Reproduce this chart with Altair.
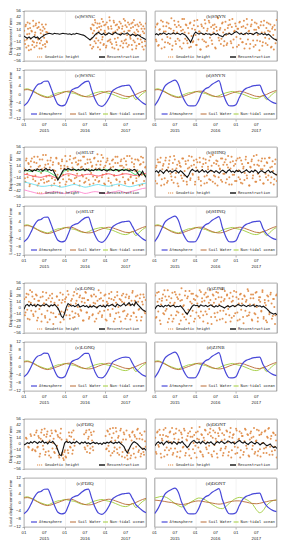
import altair as alt
import pandas as pd

# ---------------- data ----------------
X_TICKS = [2015.0, 2015.5, 2016.0, 2016.5, 2017.0, 2017.5]
MONTH_LABELS = ["01", "07", "01", "07", "01", "07"]
YEAR_POS = [2015.5, 2016.5, 2017.5]
YEAR_LABELS = ["2015", "2016", "2017"]
DISP_TICKS = [-56, -42, -28, -14, 0, 14, 28, 42, 56]
LOAD_TICKS = [-12, -8, -4, 0, 4, 8, 12]

GROUPS = [("WSNC", "SNYN"), ("SHAT", "SHNQ"), ("LONQ", "ZJNB"), ("FDIQ", "DONT")]

# reconstruction (half-monthly, Jan 2015 - Dec 2017)
REC = {
    "WSNC": [0,-3,-5,-2,-6,-3,-1,-4,-2,-7,-3,-1,2, 4,5,6,5,4,6,5,5,4,5,6,5,5,4,5,3,5,4,6,5,4,3,2,0,
             -3,-6,-9,-5,-2,3,6,8,5,3,6,2,4,7,5,3,6,8,5,4,2,6,4,5,7,3,1,4,2,0,3,1,-2,-4,-6,-8],
    "SNYN": [3,5,2,6,4,7,5,3,6,4,5,7,4,6,5,3,6,4,2,-3,-8,-14,-6,4,9,6,4,7,5,3,6,4,5,2,4,6,3,5,1,0,
             -2,3,5,4,6,3,5,8,10,7,4,6,3,5,7,4,6,5,3,6,8,5,4,6,3,5,2,4,1,-3,-6,-8,-10],
    "SHAT": [2,5,3,6,4,1,5,3,7,4,6,2,5,8,4,6,3,5,-2,-10,-18,-12,-4,3,7,5,8,6,4,7,5,3,6,4,5,7,3,6,4,
             2,5,3,6,4,7,5,3,6,4,2,5,7,4,3,6,5,2,4,6,3,5,4,2,5,3,6,4,-2,-8,-4,2,-6,-12],
    "SHNQ": [0,3,-2,4,1,-3,2,5,0,3,-1,2,4,1,-2,3,0,-4,-8,-12,-6,2,6,3,1,4,-1,2,5,0,3,-2,1,4,2,-1,3,
             0,-3,2,4,1,-2,3,5,0,2,-1,4,1,3,-2,0,2,5,1,-1,3,0,4,2,-3,1,3,0,-2,2,4,-1,1,-3,-5,-7],
    "LONQ": [-3,6,8,4,9,5,7,3,8,6,4,7,5,9,6,3,7,5,8,4,0,-8,-18,-22,-12,2,10,7,4,6,3,5,8,2,4,6,3,5,1,
             4,2,5,3,0,4,6,3,5,2,7,4,6,8,5,3,9,6,4,7,10,5,8,12,6,9,5,14,8,4,0,-4,-6,-8],
    "ZJNB": [-2,4,6,3,5,2,6,4,7,3,5,6,2,4,3,5,1,-4,-10,-14,-8,-2,4,7,5,6,3,7,5,4,6,3,5,7,4,2,5,3,6,
             4,2,0,3,5,2,4,6,3,5,8,6,4,7,5,3,6,4,5,7,3,6,4,5,2,4,1,-2,-6,-10,-12,-14,-12,-15],
    "FDIQ": [-2,0,3,1,5,2,6,4,1,5,3,7,2,4,0,5,3,6,1,-4,-14,-24,-26,-12,2,6,3,5,1,4,2,6,3,0,4,2,5,1,
             3,0,2,4,1,3,0,2,-1,3,1,4,2,5,3,1,4,2,5,1,-2,-6,-14,-20,-12,-4,2,5,3,0,-4,-8,-12,-10,-14],
    "DONT": [-4,2,5,1,4,-2,3,6,2,4,0,5,3,-1,4,2,6,1,-3,-8,-4,2,6,8,4,2,5,1,6,3,0,4,2,5,1,-2,3,5,2,
             6,4,1,3,7,5,2,4,0,3,6,8,4,2,5,1,-1,3,5,2,0,4,2,-2,1,3,-1,-4,-2,0,-5,-8,-6,-10],
}

# geodetic height samples, two interleaved sets (evenly spread over 3 years; None = no data)
SCAT_A = {
    "WSNC": [12,-18,25,-8,30,-22,5,18,-30,10,-12,22,-25,8,28,-15,-5,20,-28,14,-10,26,-20,3,16,-24,9,-14]
            + [None] * 50 +
            [-20,15,-28,6,24,-12,30,-5,18,-25,10,28,-15,22,-8,32,-18,12,26,-22,5,20,-10,35,-14,16,
             -26,8,30,-6,24,-20,14,-30,18,4,28,-12,22,-16,10,34,-8,20,-24,12,26,-2,18,-20,30,-10,8,
             24,-28,14,-6,22,-18,2,26,-14,10,-30,16,-22],
    "SNYN": [20,-12,28,-20,15,35,-8,22,-25,10,30,-15,18,-5,40,-22,12,25,-18,8,32,-10,20,-28,14,38,-6,
             24,-16,6,28,-24,16,-12,34,2,-20,22,10,-30,26,-8,18,36,-14,12,-22,30,4,-10,24,16,-26,20,
             42,-4,14,-18,28,8,-12,32,-20,18,6,26,-16,38,-8,12,22,-24,16,30,-6,20,-14,34,4,-18,26,10,
             -28,22,36,-10,14,-20,28,2,18,-12,32,-22,24,8,-16,30,12,-6,26,-24,20,-30,14,-8],
    "SHAT": [8,-22,30,-12,18,-28,24,4,-16,34,-8,20,-30,12,28,-18,6,38,-24,16,-10,26,-20,10,32,-14,22,
             -26,2,30,-6,18,-32,14,24,-16,8,36,-22,12,-8,28,-18,20,4,-26,32,-12,16,26,-20,10,-6,34,
             -24,18,-14,28,6,-28,22,12,-10,30,-18,16,40,-22,8,24,-12,32,-26,14,-4,26,-20,18,10,-30,
             28,-8,20,-16,34,2,-22,24,14,-12,30,-26,16,6,-18,36,-10,22,-24,12,28,-14,4,26,-30,18,-6,
             32,-20,10],
    "SHNQ": [-20,14,28,-8,22,-30,6,18,-14,32,-24,10,26,-4,-18,20,36,-12,8,-26,24,14,-8,30,-20,2,18,
             -28,26,10,-14,34,-6,16,-22,28,4,-16,22,-30,12,30,-10,20,-24,6,26,-18,14,38,-8,-26,18,24,
             -12,8,30,-22,16,-4,28,-16,10,-28,22,34,-6,14,-20,26,2,-12,32,-24,18,8,-18,28,-8,20,-30,
             12,24,-14,36,4,-22,16,26,-10,6,30,-26,14,-4,22,-18,32,10,-12,24,-28,18,-6],
    "LONQ": [20,-10,32,-24,14,40,-6,26,-18,8,30,-28,16,-2,24,-14,36,10,-22,18,-32,4,28,-10,22,-36,12,
             -20,26,6,-14,34,-8,18,-26,14,24,-4,30,-16,8,20,-22,36,-12,16,2,-18,28,-6,22,-28,12,34,
             -10,18,-20,4,26,-14,30,10,-24,16,40,-8,22,-16,6,28,-26,14,-4,32,-18,20,8,-30,24,-12,36,
             2,-20,18,28,-8,12,-24,30,-14,22,6,-18,34,-10,16,26,-28,14,-2,30,-20,8,24,-12],
    "ZJNB": [28,-20,14,36,-28,8,22,-12,40,-6,18,-32,26,4,-16,34,-24,12,30,-8,20,-36,16,44,-14,6,28,
             -26,22,-4,38,-18,10,32,-30,18,-10,26,2,-22,36,14,-16,30,-8,24,-34,12,40,-20,6,28,-12,20,
             -28,34,8,-6,24,-24,16,38,-14,30,-2,22,-30,14,26,-18,4,36,-10,20,-26,32,10,-20,28,-6,18,
             42,-16,8,30,-28,22,-12,34,2,-22,24,14,-8,36,-24,18,6,-32,26,-14,30,10,-18,20,-36,28],
    "FDIQ": [None,None,12,None,-8,None,18,-14,None,
             20,-16,30,-6,14,-22,26,8,-12,34,-18,22,4,-26,18,30,-10,12,-20,28,-4,16,-30,24,10,-24,
             -36,-14,-30,6,-20,18,-8,26,-14,10]
            + [None] * 8 + [22,-12,30,-4,16,-20,26,8,-14] + [None] * 10 +
            [18,-10,28,-16,34,6,-20,24,-8,36,-12,14,-24,30,4,-18,26,-30,10,-26,-14,20,-32,8,28,-22,
             16,-6,32,-18,12,-28,20,-10,-24,6],
    "DONT": [14,-22,28,-6,20,-30,8,32,-14,18,-24,6,26,-10,36,-20,12,24,-28,4,30,-16,22,-8,34,-26,10,
             18,-12,28,-32,16,2,-20,26,12,-8,38,-18,20,-28,8,30,-12,22,-4,34,-24,14,-16,26,6,-30,18,
             32,-10,24,-20,10,-6,28,-26,16,36,-14,20,4,-22,30,-8,12,-30,24,18,-18,34,-4,22,-26,10,28,
             -12,16,-22,6,32,-16,20,-28,26,2,-10,30,-20,14,36,-6,18,-24,24,-14,8],
}
SCAT_B = {
    "WSNC": [-10,22,-26,4,16,-32,28,-6,12,-20,34,-14,2,24,-22,18,-8,30,-16,6,-28,12,20,-4,-18,26,-12,8]
            + [None] * 50 +
            [18,-6,26,-24,12,36,-16,4,28,-10,20,-30,14,38,-2,-20,24,8,-26,30,-12,16,42,-8,22,-18,4,
             34,-28,10,-14,26,-4,20,32,-22,6,16,-26,38,-10,24,-16,2,30,-20,12,-6,28,-30,20,36,-14,4,
             -22,26,10,-18,30,-8,16,-24,22,6,-12,28],
    "SNYN": [-8,26,-22,14,4,-28,32,10,-14,22,-2,28,-18,16,-30,6,34,-12,20,-6,24,-24,12,38,-16,8,26,
             -10,18,-26,30,0,-14,24,14,-20,36,-8,10,-30,22,4,-12,28,-24,16,34,-4,20,-18,8,26,-28,12,
             40,-10,18,-6,30,-22,14,2,-16,24,36,-12,20,-26,10,28,-2,16,-20,32,6,-14,22,-28,18,38,-8,
             12,-18,26,4,-24,30,14,-10,20,-32,24,8,-14,34,-4,18,-20,28,10,-26,16,2,24,-16,36],
    "SHAT": [-14,26,-4,20,-32,12,30,-10,22,-20,6,34,-26,14,-2,28,-16,10,38,-22,18,-8,26,-30,16,4,-18,
             32,-12,20,-24,8,28,-6,14,-28,24,2,-16,36,-20,10,30,-14,22,-4,18,-30,26,12,-10,34,-22,6,
             20,-18,28,-2,14,-26,32,8,-12,24,-20,16,38,-6,10,-28,22,30,-14,4,-24,26,12,-8,34,-18,20,
             -30,14,28,-4,10,-22,24,36,-16,6,-12,30,-26,18,2,-20,28,-10,16,34,-28,22,-6,12],
    "SHNQ": [10,-26,22,-6,32,-16,14,-28,26,4,-20,18,34,-10,6,-24,28,-2,16,-32,20,12,-14,30,-8,24,-22,
             8,36,-18,14,-4,26,-28,10,22,-12,32,-20,4,18,-26,28,-8,12,-16,34,2,-22,20,-10,26,-30,14,
             6,-18,30,-4,22,-24,16,36,-12,8,-28,24,-6,18,-20,30,4,-16,26,-26,12,-2,34,-14,20,-30,10,
             28,-8,16,-22,38,-4,14,-18,24,6,-26,30,-12,20,-8,32,-24,12,2,-16,28,-20],
    "LONQ": [-16,24,-4,30,-26,12,36,-14,20,-8,28,-22,16,4,-30,26,10,-18,34,-6,22,-26,14,32,-12,8,-20,
             26,-2,18,-32,12,30,-10,20,-16,38,4,-24,16,-8,28,-20,10,32,-14,24,-4,14,-28,22,36,-10,18,
             -24,6,28,-16,12,-30,26,2,-12,20,34,-20,16,-6,30,-28,10,22,-14,36,-2,18,-24,12,28,-10,20,
             -30,14,32,-6,24,-18,8,26,-26,16,38,-12,10,-20,28,-4,22,-28,14,30,-8,18],
    "ZJNB": [-22,34,-8,20,-36,16,30,-14,26,-2,40,-24,12,22,-30,8,36,-16,24,-10,30,-28,18,4,-20,38,-12,
             26,-34,14,32,-6,20,-24,28,10,-18,40,-8,22,-30,16,34,-14,26,-2,18,-36,30,12,-20,36,-10,24,
             -26,14,42,-6,20,-32,28,4,-16,34,-22,16,38,-12,24,-28,10,30,-4,20,-34,26,14,-18,38,-10,22,
             -26,30,8,-14,36,-30,18,24,-6,40,-20,12,-28,28,16,-10,34,-24,20,2,-16,30],
    "FDIQ": [None,14,None,-6,None,22,None,-12,None,
             -14,26,-8,18,-28,12,32,-4,20,-24,16,28,-16,8,-30,24,2,-18,30,-10,20,-26,14,34,-20,-32,
             -18,-28,10,-14,26,-6,16,-22,30,-4]
            + [None] * 8 + [-8,26,-18,12,32,-10,20,-6,28] + [None] * 10 +
            [-12,30,-4,22,-26,14,36,-16,8,28,-20,18,-8,34,-28,10,22,-14,30,-34,-20,16,-26,26,-10,20,
             -30,12,34,-14,24,-22,10,-18,28,-6],
    "DONT": [-18,26,-2,32,-22,12,20,-28,36,-8,16,-14,28,4,-24,22,-10,34,-18,10,-30,26,14,-6,30,-20,8,
             24,-26,16,36,-12,20,-4,-30,28,10,-16,22,-24,14,32,-8,4,-20,26,18,-28,30,-2,12,-22,24,36,
             -14,8,-26,20,-10,30,4,-18,26,-30,14,22,-6,34,-20,10,28,-14,18,-24,6,32,-10,20,-28,24,14,
             -4,36,-18,8,-26,30,-12,22,2,-20,28,-8,16,34,-24,12,-16,26,-6,20,-30],
}

# extra coloured traces visible in the SHAT displacement panel (monthly)
SHAT_CYAN = [-22,-24,-26,-28,-30,-32,-32,-31,-30,-30,-32,-34,-33,-31,-29,-28,-30,-32,-34,-33,-31,-29,
             -28,-30,-31,-32,-30,-28,-27,-29,-31,-33,-32,-30,-28,-26,-25]
SHAT_PINK = [-40,-42,-44,-46,-48,-49,-48,-46,-45,-44,-45,-47,-48,-46,-44,-43,-44,-46,-48,-47,-45,-44,
             -45,-47,-48,-47,-45,-44,-42,-44,-46,-45,-43,-41,-39,-37,-36]
SHAT_RED = [-5,-6,-8,-10,-11,-12,-10,-8,-9,-12,-14,-10,-6,-4,-5,-7,-9,-8,-6,-5,-6,-8,-9,-7,-5,-4,-6,
            -8,-7,-5,-4,-5,-7,-8,-6,-4,-3]
SHAT_GREEN = [2,3,1,4,2,0,3,1,-3,-8,-14,-6,3,5,4,6,3,5,4,6,3,5,4,5,6,4,5,3,5,4,6,3,-2,-6,2,-4,-8]

# loading displacements (monthly, Jan 2015 - Jan 2018)
ATM_1 = [-5.5,-4.0,-1.0,2.5,4.8,5.4,6.5,6.6,3.0,-1.5,-4.8,-5.6,-5.2,-2.0,2.0,3.0,3.6,5.0,6.2,6.6,
         2.0,-2.5,-5.2,-5.8,-4.6,-2.0,1.5,2.8,3.6,4.2,4.4,4.6,2.0,-1.0,-2.6,-4.0,-5.0]
ATM_2 = [-5.5,-3.0,0.5,4.0,5.5,6.4,7.0,5.0,0.0,-3.5,-5.5,-5.6,-5.5,-3.0,1.0,2.8,3.6,5.0,6.0,6.8,
         1.5,-3.0,-5.5,-5.6,-5.0,-1.5,1.5,3.0,3.6,4.2,4.5,4.6,1.0,-1.5,-3.0,-4.0,-4.5]
ATM_3 = [-5.0,-3.5,-0.5,3.0,5.0,5.6,6.6,6.4,2.5,-2.0,-5.0,-5.6,-5.0,-1.5,2.2,3.2,3.8,5.2,6.4,6.4,
         1.8,-2.8,-5.4,-5.6,-4.4,-1.5,1.8,3.0,3.8,4.4,4.6,4.4,1.6,-1.2,-2.8,-4.2,-4.8]
ATM = {"WSNC": ATM_1, "SNYN": ATM_2, "SHAT": ATM_1, "SHNQ": ATM_2,
       "LONQ": ATM_3, "ZJNB": ATM_2, "FDIQ": ATM_1, "DONT": ATM_2}
SOIL_STD = [2.2,2.4,2.0,1.2,0.3,-0.6,-1.2,-1.5,-1.2,-0.6,0.0,0.6,1.2,1.6,1.6,1.0,0.2,-0.5,-1.0,-1.2,
            -1.0,-0.5,0.2,0.8,1.3,1.6,1.4,0.8,0.2,-0.4,-0.9,-1.0,-0.6,0.0,0.8,1.5,2.0]
SOIL_DONT = [1.2,1.0,0.8,0.5,0.2,0.0,-0.4,-0.8,-1.0,-0.8,-0.4,0.2,0.6,0.8,0.6,0.3,0.0,-0.3,-0.6,-0.8,
             -0.6,-0.2,0.3,0.6,0.8,0.8,0.5,0.2,-0.2,-0.5,-0.6,-0.4,0.0,0.4,0.8,1.0,1.2]
OCEAN_STD = [2.5,2.8,2.2,1.5,0.5,-0.2,-0.8,-1.2,-0.5,0.2,0.8,1.0,1.5,1.2,0.8,0.5,-0.2,-0.8,-1.0,-0.6,
             0.2,0.8,1.2,1.5,1.0,0.6,0.2,-0.5,-1.2,-1.8,-2.0,-1.5,-0.5,-2.5,-1.0,0.5,1.5]
OCEAN_DONT = [2.2,2.6,3.0,2.8,2.0,0.8,-0.5,-1.5,-2.2,-1.5,-0.5,0.5,1.5,2.2,2.0,1.2,0.2,-1.0,-2.0,-2.8,
              -3.0,-2.0,-0.5,1.0,2.0,2.5,2.2,1.5,0.5,-1.0,-3.5,-5.0,-4.0,-1.5,0.0,1.0,1.2]
SOIL = {k: (SOIL_DONT if k == "DONT" else SOIL_STD) for k in ATM}
OCEAN = {k: (OCEAN_DONT if k == "DONT" else OCEAN_STD) for k in ATM}

# ---------------- style ----------------
W, H1, H2 = 122, 50, 49
C_SCAT, C_REC = "#df8a44", "#111111"
C_ATM, C_SOIL, C_OCEAN = "#4848d8", "#b86a34", "#9fcc3a"
LEG_FONT = "DejaVu Sans Mono"
TITLE_FONT = "Liberation Serif"
AX_FONT = "Liberation Sans"
LEG_SIZE = 3.8
LAB_SIZE = 4.3


def line_t(n):
    return [2015 + 3 * i / (n - 1) for i in range(n)]


def scat_t(n, phase):
    return [2015 + 3 * (i + phase) / n for i in range(n)]


XS = alt.Scale(domain=[2015, 2018], nice=False, zero=False)
ONE = pd.DataFrame({"a": [0]})


def y_axis(left, ticks, title):
    if left:
        return alt.Axis(values=ticks, title=title, labels=False, tickSize=2, titleFontSize=LAB_SIZE,
                        titlePadding=9, domain=False, grid=True)
    return alt.Axis(values=ticks, title=None, labels=False, ticks=False, domain=False, grid=True)


def y_labels(ticks):
    d = pd.DataFrame({"v": ticks})
    return alt.Chart(d).mark_text(fontSize=LAB_SIZE, font=AX_FONT, align="right", baseline="middle",
                                  color="#222").encode(x=alt.value(-3), y="v:Q", text="v:Q")


def text_mark(s, x, y, size=LEG_SIZE, font=LEG_FONT, align="left"):
    return alt.Chart(ONE).mark_text(text=s, fontSize=size, font=font, align=align,
                                    baseline="middle", color="#222").encode(
        x=alt.value(x), y=alt.value(y))


def leg_line(x1, x2, y, color, dash=None, width=1.2):
    kw = dict(color=color, strokeWidth=width)
    if dash:
        kw["strokeDash"] = dash
    return alt.Chart(ONE).mark_rule(**kw).encode(x=alt.value(x1), x2=alt.value(x2), y=alt.value(y))


def disp_panel(code, letter, left):
    ys = alt.Scale(domain=[-56, 56], nice=False, zero=False)
    xa = alt.Axis(values=X_TICKS, title=None, labels=False, ticks=False, domain=False, grid=True)
    sa, sb = SCAT_A[code], SCAT_B[code]
    df_s = pd.concat([pd.DataFrame({"t": scat_t(len(sa), 0.25), "v": sa}),
                      pd.DataFrame({"t": scat_t(len(sb), 0.75), "v": sb})]).dropna()
    rec = REC[code]
    df_r = pd.DataFrame({"t": line_t(len(rec)), "v": rec})
    layers = [
        alt.Chart(df_s).mark_circle(size=4, color=C_SCAT, opacity=0.9, clip=True).encode(
            x=alt.X("t:Q", scale=XS, axis=xa),
            y=alt.Y("v:Q", scale=ys, axis=y_axis(left, DISP_TICKS, "Displacement / mm"))),
    ]
    if left:
        layers.append(y_labels(DISP_TICKS))
    if code == "SHAT":
        for arr, col in [(SHAT_CYAN, "#5fdcee"), (SHAT_PINK, "#ff80cc"), (SHAT_RED, "#ff4a60"),
                         (SHAT_GREEN, "#22c84a")]:
            d = pd.DataFrame({"t": line_t(len(arr)), "v": arr})
            layers.append(alt.Chart(d).mark_line(color=col, strokeWidth=0.9, opacity=0.95,
                                                 interpolate="monotone", clip=True).encode(
                x="t:Q", y="v:Q"))
    layers += [
        alt.Chart(df_r).mark_line(color=C_REC, strokeWidth=1.1, clip=True).encode(x="t:Q", y="v:Q"),
        text_mark("(%s)%s" % (letter, code), W / 2, 5, size=5, font=TITLE_FONT, align="center"),
        leg_line(13, 19, H1 - 4, C_SCAT, dash=[1.2, 0.8]),
        text_mark("Geodetic height", 21, H1 - 4),
        leg_line(75, 81, H1 - 4, C_REC, width=1.4),
        text_mark("Reconstruction", 83, H1 - 4),
    ]
    return alt.layer(*layers).properties(width=W, height=H1)


def load_panel(code, letter, left):
    ys = alt.Scale(domain=[-12, 12], nice=False, zero=False)
    xa = alt.Axis(values=X_TICKS, title=None, labels=False, tickSize=2, domain=False, grid=True)
    layers = []
    first = True
    for arr, col in [(OCEAN[code], C_OCEAN), (SOIL[code], C_SOIL), (ATM[code], C_ATM)]:
        d = pd.DataFrame({"t": line_t(len(arr)), "v": arr})
        m = alt.Chart(d).mark_line(color=col, strokeWidth=1.2 if col == C_ATM else 0.9,
                                   interpolate="monotone", clip=True)
        if first:
            m = m.encode(x=alt.X("t:Q", scale=XS, axis=xa),
                         y=alt.Y("v:Q", scale=ys,
                                 axis=y_axis(left, LOAD_TICKS, "Load displacement / mm")))
            first = False
        else:
            m = m.encode(x="t:Q", y="v:Q")
        layers.append(m)
    if left:
        layers.append(y_labels(LOAD_TICKS))
    yl = H2 - 5
    months = pd.DataFrame({"t": X_TICKS, "s": MONTH_LABELS})
    years = pd.DataFrame({"t": YEAR_POS, "s": YEAR_LABELS})
    layers += [
        alt.Chart(months).mark_text(fontSize=LAB_SIZE, font=AX_FONT, baseline="top", color="#222").encode(
            x="t:Q", y=alt.value(H2 + 3.5), text="s:N"),
        alt.Chart(years).mark_text(fontSize=LAB_SIZE, font=AX_FONT, baseline="top", color="#222").encode(
            x="t:Q", y=alt.value(H2 + 9.5), text="s:N"),
        text_mark("(%s)%s" % (letter, code), W / 2, 5, size=5, font=TITLE_FONT, align="center"),
        leg_line(7, 13, yl, C_ATM, width=1.2),
        text_mark("Atmosphere", 15, yl),
        leg_line(46, 52, yl, C_SOIL, width=1.0),
        text_mark("Soil Water", 54, yl),
        leg_line(79, 84, yl, C_OCEAN, width=1.0),
        text_mark("Non-tidal ocean", 86, yl),
    ]
    return alt.layer(*layers).properties(width=W, height=H2)


groups = []
for a, b in GROUPS:
    row1 = alt.hconcat(disp_panel(a, "a", True), disp_panel(b, "b", False), spacing=7)
    row2 = alt.hconcat(load_panel(a, "c", True), load_panel(b, "d", False), spacing=4.6)
    groups.append(alt.vconcat(row1, row2, spacing=3))

chart = alt.vconcat(*groups, spacing=10, padding=0, background="white").configure_view(
    stroke="#666", strokeWidth=0.7
).configure_axis(
    gridColor="#e4e4e4", gridWidth=0.5, titleFont=AX_FONT, titleFontWeight="normal",
    titleColor="#222", tickColor="#666", tickWidth=0.5
)

chart.save("out.html", embed_options={"renderer": "svg", "actions": False})
